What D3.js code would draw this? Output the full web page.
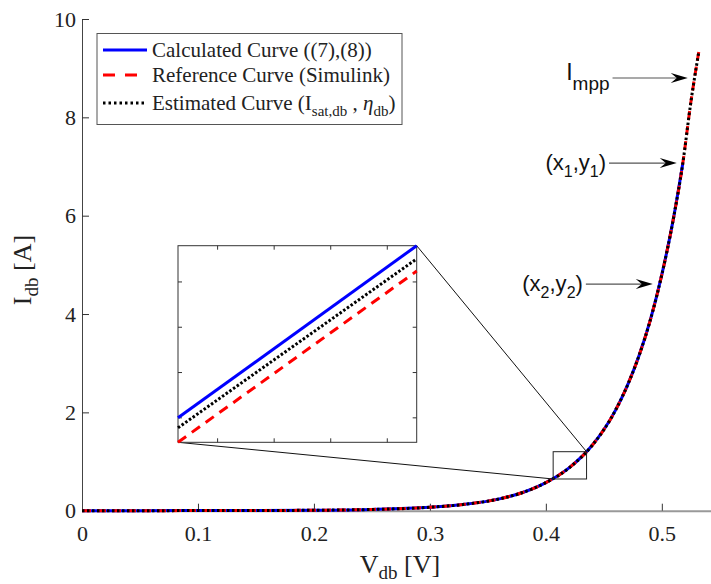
<html>
<head>
<script src="https://cdn.jsdelivr.net/npm/d3@7"></script>
<style>
  body { margin: 0; background: #fff; }
  svg { display: block; }
  .serif { font-family: "Liberation Serif", "Times New Roman", serif; fill: #222; }
  .sans { font-family: "Liberation Sans", Arial, sans-serif; fill: #111; }
</style>
</head>
<body>
<svg id="chart"></svg>
<script>
const WIDTH = 711
const HEIGHT = 584
const SERIF = '"Liberation Serif", "Times New Roman", serif'

// main curves
const vdb   = [0, 0.05, 0.10, 0.15, 0.20, 0.25, 0.30, 0.33, 0.36, 0.38, 0.40, 0.42, 0.44, 0.46, 0.47, 0.48, 0.49, 0.50, 0.51, 0.518, 0.525, 0.532]
const iRef  = [0, 0.001, 0.002, 0.004, 0.009, 0.025, 0.07, 0.13, 0.24, 0.37, 0.57, 0.87, 1.33, 2.04, 2.53, 3.13, 3.87, 4.80, 5.94, 7.05, 8.30, 9.35]
const iEst  = iRef.slice()
const iCalc = iRef.slice(0, 20)   // blue curve stops at (x1,y1)

const xTicks = [0, 0.1, 0.2, 0.3, 0.4, 0.5]
const yTicks = [0, 2, 4, 6, 8, 10]

// zoomed region
const zoomV = [0.4063, 0.4351]
const zoomI = [0.645, 1.20]

// inset
const insetV = [0.4065, 0.4276]
const insetCalc = [0.700, 1.080]
const insetEst  = [0.678, 1.051]
const insetRef  = [0.646, 1.024]
const insetXTicks = [0.41, 0.415, 0.42, 0.425]
const insetYTicks = [0.7, 0.8, 0.9, 1.0]

// annotations: label, arrow tail V, tip V, I
const annLabels = [["I", "mpp"], ["(x", "1", ",y", "1", ")"], ["(x", "2", ",y", "2", ")"]]
const annTail = [0.4575, 0.4545, 0.4345]
const annTip  = [0.5224, 0.5129, 0.4922]
const annI    = [8.80, 7.07, 4.61]

const legendLabels = ["Calculated Curve ((7),(8))", "Reference Curve (Simulink)", "Estimated Curve"]

const svg = d3.select("#chart").attr("width", WIDTH).attr("height", HEIGHT)

const x = d3.scaleLinear().domain([0, 0.545]).range([82, 714])
const y = d3.scaleLinear().domain([0, 10]).range([510.7, 19])

// axes
const xAxis = d3.axisBottom(x).tickValues(xTicks).tickSize(-7).tickSizeOuter(0).tickPadding(15).tickFormat(d => d === 0 ? "0" : d3.format(".1f")(d))
const gx = svg.append("g").attr("transform", `translate(0,${y(0)})`).call(xAxis)
  .attr("font-family", SERIF).attr("font-size", 22)
gx.select(".domain").attr("stroke", "#999").attr("stroke-width", 2)
gx.selectAll(".tick line").attr("stroke", "#333")
gx.selectAll("text").style("font-family", SERIF).attr("fill", "#222")

const yAxis = d3.axisLeft(y).tickValues(yTicks).tickSize(-7).tickSizeOuter(0).tickPadding(6)
const gy = svg.append("g").attr("transform", `translate(${x(0)},0)`).call(yAxis)
  .attr("font-family", SERIF).attr("font-size", 22)
gy.select(".domain").attr("stroke", "#444")
gy.selectAll(".tick line").attr("stroke", "#333")
gy.selectAll("text").style("font-family", SERIF).attr("fill", "#222")

// axis labels
const xl = svg.append("text").attr("class", "serif").attr("font-size", 26)
  .attr("x", 400).attr("y", 573).attr("text-anchor", "middle")
xl.append("tspan").text("V")
xl.append("tspan").attr("font-size", 19).attr("dy", 6).text("db")
xl.append("tspan").attr("dy", -6).text(" [V]")

const yl = svg.append("text").attr("class", "serif").attr("font-size", 26)
  .attr("text-anchor", "middle").attr("transform", "translate(31,270) rotate(-90)")
yl.append("tspan").text("I")
yl.append("tspan").attr("font-size", 19).attr("dy", 7).text("db")
yl.append("tspan").attr("dy", -7).text(" [A]")

// curves
const mainLine = arr => d3.line().x((d, i) => x(vdb[i])).y(d => y(d)).curve(d3.curveMonotoneX)(arr)
const plot = svg.append("g")
plot.append("path").attr("d", mainLine(iCalc)).attr("fill", "none").attr("stroke", "#0000ff").attr("stroke-width", 3)
plot.append("path").attr("d", mainLine(iRef)).attr("fill", "none").attr("stroke", "#ff0000").attr("stroke-width", 3).attr("stroke-dasharray", "9,6")
plot.append("path").attr("d", mainLine(iEst)).attr("fill", "none").attr("stroke", "#000").attr("stroke-width", 3).attr("stroke-dasharray", "2.5,2.5")

// zoom box
svg.append("rect")
  .attr("x", x(zoomV[0])).attr("y", y(zoomI[1]))
  .attr("width", x(zoomV[1]) - x(zoomV[0])).attr("height", y(zoomI[0]) - y(zoomI[1]))
  .attr("fill", "none").attr("stroke", "#222").attr("stroke-width", 1)

// inset
const ix = d3.scaleLinear().domain(insetV).range([178, 416.7])
const iy = d3.scaleLinear().domain([0.646, 1.080]).range([442.3, 245.7])

// connector lines
svg.append("line").attr("x1", ix.range()[1]).attr("y1", iy.range()[1])
  .attr("x2", x(zoomV[1])).attr("y2", y(zoomI[1])).attr("stroke", "#111").attr("stroke-width", 1)
svg.append("line").attr("x1", ix.range()[0]).attr("y1", iy.range()[0])
  .attr("x2", x(zoomV[0])).attr("y2", y(zoomI[0])).attr("stroke", "#111").attr("stroke-width", 1)

const inset = svg.append("g")
inset.append("rect").attr("x", 178).attr("y", 245.7).attr("width", 238.7).attr("height", 196.6)
  .attr("fill", "#fff").attr("stroke", "#333").attr("stroke-width", 1)
insetXTicks.forEach(t => {
  inset.append("line").attr("x1", ix(t)).attr("x2", ix(t)).attr("y1", 245.7).attr("y2", 249.7).attr("stroke", "#333")
  inset.append("line").attr("x1", ix(t)).attr("x2", ix(t)).attr("y1", 442.3).attr("y2", 438.3).attr("stroke", "#333")
})
insetYTicks.forEach(t => {
  inset.append("line").attr("y1", iy(t)).attr("y2", iy(t)).attr("x1", 178).attr("x2", 182).attr("stroke", "#333")
  inset.append("line").attr("y1", iy(t)).attr("y2", iy(t)).attr("x1", 416.7).attr("x2", 412.7).attr("stroke", "#333")
})
const insetLine = arr => d3.line().x((d, i) => ix(insetV[i])).y(d => iy(d))(arr)
inset.append("path").attr("d", insetLine(insetCalc)).attr("stroke", "#0000ff").attr("stroke-width", 3).attr("fill", "none")
inset.append("path").attr("d", insetLine(insetEst)).attr("stroke", "#000").attr("stroke-width", 3).attr("stroke-dasharray", "2.5,2").attr("fill", "none")
inset.append("path").attr("d", insetLine(insetRef)).attr("stroke", "#ff0000").attr("stroke-width", 3).attr("stroke-dasharray", "10,7").attr("fill", "none")

// annotations
annLabels.forEach((parts, k) => {
  const tail = x(annTail[k]), tip = x(annTip[k]), ay = y(annI[k])
  svg.append("line").attr("x1", tail).attr("x2", tip - 8).attr("y1", ay).attr("y2", ay)
    .attr("stroke", "#555").attr("stroke-width", 1.2)
  svg.append("path").attr("d", `M${tip},${ay} L${tip - 17},${ay - 5} L${tip - 11},${ay} L${tip - 17},${ay + 5} Z`).attr("fill", "#000")
  const t = svg.append("text").attr("class", "sans").attr("text-anchor", "end")
  if (k === 0) {
    t.attr("x", tail - 3).attr("y", ay + 2).attr("font-size", 23)
    t.append("tspan").text(parts[0])
    t.append("tspan").attr("font-size", 19).attr("dy", 10).text(parts[1])
  } else {
    t.attr("x", tail - 3).attr("y", ay + 7).attr("font-size", 22)
    parts.forEach((p, j) => {
      const sp = t.append("tspan").text(p)
      if (j % 2 === 1) sp.attr("font-size", 16).attr("dy", 7)
      else if (j > 0) sp.attr("dy", -7)
    })
  }
})

// legend
const lg = svg.append("g")
lg.append("rect").attr("x", 97).attr("y", 33.5).attr("width", 305).attr("height", 91)
  .attr("fill", "#fff").attr("stroke", "#555").attr("stroke-width", 1)
const legY = [50, 75, 103]
const legStyles = [
  {c: "#0000ff", d: null, w: 3},
  {c: "#ff0000", d: "12,10", w: 3},
  {c: "#000", d: "2.5,3", w: 3}
]
legendLabels.forEach((lab, k) => {
  const s = legStyles[k]
  const ln = lg.append("line").attr("x1", 103).attr("x2", 147).attr("y1", legY[k]).attr("y2", legY[k])
    .attr("stroke", s.c).attr("stroke-width", s.w)
  if (s.d) ln.attr("stroke-dasharray", s.d)
  const t = lg.append("text").attr("class", "serif").attr("font-size", 21).attr("x", 152).attr("y", legY[k] + 6.5)
  if (k < 2) t.text(lab)
  else {
    t.append("tspan").text(lab + " (I")
    t.append("tspan").attr("font-size", 15).attr("dy", 6).text("sat,db")
    t.append("tspan").attr("dy", -6).text(" , ")
    t.append("tspan").attr("font-style", "italic").text("η")
    t.append("tspan").attr("font-size", 15).attr("dy", 6).text("db")
    t.append("tspan").attr("dy", -6).text(")")
  }
})
</script>
</body>
</html>
